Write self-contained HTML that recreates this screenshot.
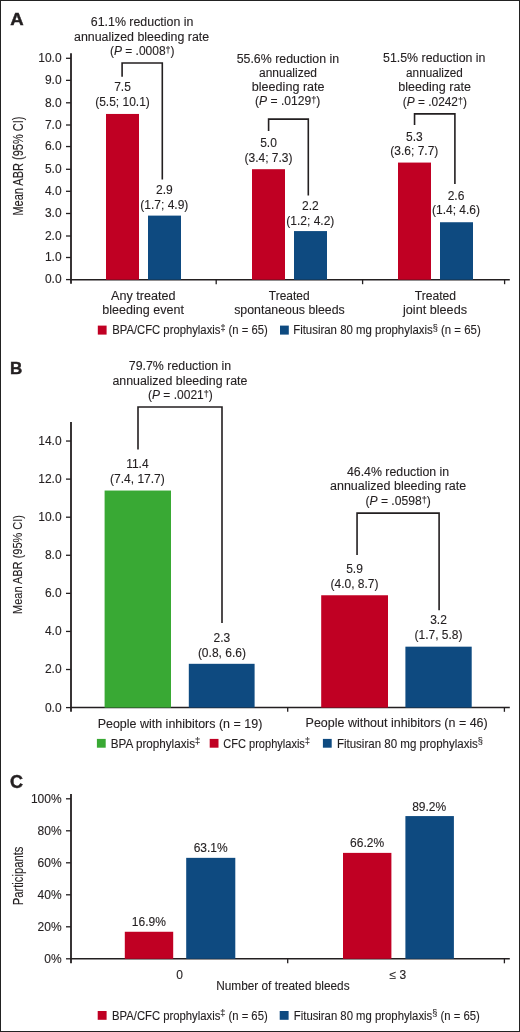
<!DOCTYPE html>
<html><head><meta charset="utf-8"><title>Figure</title>
<style>
html,body{margin:0;padding:0;background:#fff;}
body{width:520px;height:1032px;overflow:hidden;position:relative;}
svg{position:absolute;left:0;top:0;display:block;font-family:"Liberation Sans", sans-serif;will-change:transform;}
svg text{fill:#231f20;stroke:#231f20;stroke-width:0.12px;}
.frame{position:absolute;left:0;top:0;width:518px;height:1030px;border:1px solid #222;}
</style></head>
<body>
<svg width="520" height="1032" viewBox="0 0 520 1032">
<text x="10.20" y="25.00" font-size="17.2" text-anchor="start" font-weight="bold" textLength="13.40" lengthAdjust="spacingAndGlyphs" style="stroke-width:0.45px">A</text>
<line x1="71.00" y1="53.20" x2="71.00" y2="283.80" stroke="#231f20" stroke-width="1.8"/>
<line x1="66.00" y1="279.60" x2="71.00" y2="279.60" stroke="#231f20" stroke-width="1.3"/>
<text x="61.60" y="283.40" font-size="12" text-anchor="end" font-weight="normal">0.0</text>
<line x1="66.00" y1="257.50" x2="71.00" y2="257.50" stroke="#231f20" stroke-width="1.3"/>
<text x="61.60" y="261.30" font-size="12" text-anchor="end" font-weight="normal">1.0</text>
<line x1="66.00" y1="236.00" x2="71.00" y2="236.00" stroke="#231f20" stroke-width="1.3"/>
<text x="61.60" y="239.80" font-size="12" text-anchor="end" font-weight="normal">2.0</text>
<line x1="66.00" y1="213.50" x2="71.00" y2="213.50" stroke="#231f20" stroke-width="1.3"/>
<text x="61.60" y="217.30" font-size="12" text-anchor="end" font-weight="normal">3.0</text>
<line x1="66.00" y1="191.30" x2="71.00" y2="191.30" stroke="#231f20" stroke-width="1.3"/>
<text x="61.60" y="195.10" font-size="12" text-anchor="end" font-weight="normal">4.0</text>
<line x1="66.00" y1="169.30" x2="71.00" y2="169.30" stroke="#231f20" stroke-width="1.3"/>
<text x="61.60" y="173.10" font-size="12" text-anchor="end" font-weight="normal">5.0</text>
<line x1="66.00" y1="146.55" x2="71.00" y2="146.55" stroke="#231f20" stroke-width="1.3"/>
<text x="61.60" y="150.35" font-size="12" text-anchor="end" font-weight="normal">6.0</text>
<line x1="66.00" y1="125.00" x2="71.00" y2="125.00" stroke="#231f20" stroke-width="1.3"/>
<text x="61.60" y="128.80" font-size="12" text-anchor="end" font-weight="normal">7.0</text>
<line x1="66.00" y1="102.80" x2="71.00" y2="102.80" stroke="#231f20" stroke-width="1.3"/>
<text x="61.60" y="106.60" font-size="12" text-anchor="end" font-weight="normal">8.0</text>
<line x1="66.00" y1="80.35" x2="71.00" y2="80.35" stroke="#231f20" stroke-width="1.3"/>
<text x="61.60" y="84.15" font-size="12" text-anchor="end" font-weight="normal">9.0</text>
<line x1="66.00" y1="58.30" x2="71.00" y2="58.30" stroke="#231f20" stroke-width="1.3"/>
<text x="61.60" y="62.10" font-size="12" text-anchor="end" font-weight="normal">10.0</text>
<line x1="70.30" y1="279.70" x2="509.80" y2="279.70" stroke="#231f20" stroke-width="1.5"/>
<line x1="216.20" y1="279.70" x2="216.20" y2="284.20" stroke="#231f20" stroke-width="1.3"/>
<line x1="362.60" y1="279.70" x2="362.60" y2="284.20" stroke="#231f20" stroke-width="1.3"/>
<line x1="504.60" y1="279.70" x2="504.60" y2="284.20" stroke="#231f20" stroke-width="1.3"/>
<rect x="106.00" y="113.95" width="33.00" height="165.75" fill="#c00023"/>
<rect x="148.00" y="215.61" width="33.00" height="64.09" fill="#0e4a80"/>
<rect x="252.00" y="169.20" width="33.00" height="110.50" fill="#c00023"/>
<rect x="294.00" y="231.08" width="33.00" height="48.62" fill="#0e4a80"/>
<rect x="398.00" y="162.57" width="33.00" height="117.13" fill="#c00023"/>
<rect x="440.00" y="222.24" width="33.00" height="57.46" fill="#0e4a80"/>
<polyline points="122.10,76.70 122.10,63.05 162.30,63.05 162.30,179.50" fill="none" stroke="#231f20" stroke-width="1.6" stroke-linejoin="miter"/>
<polyline points="268.60,130.90 268.60,119.15 308.30,119.15 308.30,195.40" fill="none" stroke="#231f20" stroke-width="1.6" stroke-linejoin="miter"/>
<polyline points="414.55,125.10 414.55,113.90 454.90,113.90 454.90,184.00" fill="none" stroke="#231f20" stroke-width="1.6" stroke-linejoin="miter"/>
<text x="90.80" y="26.00" font-size="12" text-anchor="start" font-weight="normal" textLength="102.60" lengthAdjust="spacingAndGlyphs">61.1% reduction in</text>
<text x="74.00" y="40.70" font-size="12" text-anchor="start" font-weight="normal" textLength="135.20" lengthAdjust="spacingAndGlyphs">annualized bleeding rate</text>
<text x="109.90" y="55.00" font-size="12" text-anchor="start" font-weight="normal" textLength="64.70" lengthAdjust="spacingAndGlyphs">(<tspan font-style="italic">P</tspan> = .0008<tspan font-size="9.0" dy="-2.0">†</tspan><tspan dy="2.0">)</tspan></text>
<text x="236.70" y="62.50" font-size="12" text-anchor="start" font-weight="normal" textLength="102.40" lengthAdjust="spacingAndGlyphs">55.6% reduction in</text>
<text x="259.00" y="76.90" font-size="12" text-anchor="start" font-weight="normal" textLength="58.00" lengthAdjust="spacingAndGlyphs">annualized</text>
<text x="251.80" y="91.00" font-size="12" text-anchor="start" font-weight="normal" textLength="72.80" lengthAdjust="spacingAndGlyphs">bleeding rate</text>
<text x="255.00" y="105.40" font-size="12" text-anchor="start" font-weight="normal" textLength="65.30" lengthAdjust="spacingAndGlyphs">(<tspan font-style="italic">P</tspan> = .0129<tspan font-size="9.0" dy="-2.0">†</tspan><tspan dy="2.0">)</tspan></text>
<text x="383.00" y="62.40" font-size="12" text-anchor="start" font-weight="normal" textLength="102.50" lengthAdjust="spacingAndGlyphs">51.5% reduction in</text>
<text x="406.10" y="76.80" font-size="12" text-anchor="start" font-weight="normal" textLength="56.70" lengthAdjust="spacingAndGlyphs">annualized</text>
<text x="398.30" y="91.20" font-size="12" text-anchor="start" font-weight="normal" textLength="72.70" lengthAdjust="spacingAndGlyphs">bleeding rate</text>
<text x="402.80" y="105.70" font-size="12" text-anchor="start" font-weight="normal" textLength="64.10" lengthAdjust="spacingAndGlyphs">(<tspan font-style="italic">P</tspan> = .0242<tspan font-size="9.0" dy="-2.0">†</tspan><tspan dy="2.0">)</tspan></text>
<text x="122.50" y="91.20" font-size="12" text-anchor="middle" font-weight="normal">7.5</text>
<text x="122.50" y="105.60" font-size="12" text-anchor="middle" font-weight="normal">(5.5; 10.1)</text>
<text x="164.30" y="194.10" font-size="12" text-anchor="middle" font-weight="normal">2.9</text>
<text x="164.30" y="209.10" font-size="12" text-anchor="middle" font-weight="normal">(1.7; 4.9)</text>
<text x="268.50" y="146.70" font-size="12" text-anchor="middle" font-weight="normal">5.0</text>
<text x="268.50" y="161.60" font-size="12" text-anchor="middle" font-weight="normal">(3.4; 7.3)</text>
<text x="310.30" y="209.60" font-size="12" text-anchor="middle" font-weight="normal">2.2</text>
<text x="310.30" y="224.50" font-size="12" text-anchor="middle" font-weight="normal">(1.2; 4.2)</text>
<text x="414.30" y="140.60" font-size="12" text-anchor="middle" font-weight="normal">5.3</text>
<text x="414.30" y="154.60" font-size="12" text-anchor="middle" font-weight="normal">(3.6; 7.7)</text>
<text x="456.00" y="199.80" font-size="12" text-anchor="middle" font-weight="normal">2.6</text>
<text x="456.00" y="214.40" font-size="12" text-anchor="middle" font-weight="normal">(1.4; 4.6)</text>
<text x="111.10" y="300.00" font-size="12" text-anchor="start" font-weight="normal" textLength="64.50" lengthAdjust="spacingAndGlyphs">Any treated</text>
<text x="102.30" y="314.20" font-size="12" text-anchor="start" font-weight="normal" textLength="81.70" lengthAdjust="spacingAndGlyphs">bleeding event</text>
<text x="268.80" y="299.80" font-size="12" text-anchor="start" font-weight="normal" textLength="40.90" lengthAdjust="spacingAndGlyphs">Treated</text>
<text x="234.20" y="314.20" font-size="12" text-anchor="start" font-weight="normal" textLength="110.60" lengthAdjust="spacingAndGlyphs">spontaneous bleeds</text>
<text x="414.70" y="299.60" font-size="12" text-anchor="start" font-weight="normal" textLength="41.40" lengthAdjust="spacingAndGlyphs">Treated</text>
<text x="403.00" y="314.00" font-size="12" text-anchor="start" font-weight="normal" textLength="64.00" lengthAdjust="spacingAndGlyphs">joint bleeds</text>
<rect x="97.80" y="325.60" width="8.80" height="9.00" fill="#c00023"/>
<text x="112.20" y="334.40" font-size="12" text-anchor="start" font-weight="normal" textLength="155.60" lengthAdjust="spacingAndGlyphs">BPA/CFC prophylaxis<tspan font-size="9.6" dy="-3.4">‡</tspan><tspan dy="3.4"> (n = 65)</tspan></text>
<rect x="280.00" y="325.60" width="8.80" height="9.00" fill="#0e4a80"/>
<text x="293.20" y="334.40" font-size="12" text-anchor="start" font-weight="normal" textLength="187.50" lengthAdjust="spacingAndGlyphs">Fitusiran 80 mg prophylaxis<tspan font-size="9.6" dy="-3.4">§</tspan><tspan dy="3.4"> (n = 65)</tspan></text>
<text transform="translate(23.2,166.1) rotate(-90)" font-size="14" text-anchor="middle" textLength="99" lengthAdjust="spacingAndGlyphs">Mean ABR (95% CI)</text>
<text x="9.90" y="374.40" font-size="17" text-anchor="start" font-weight="bold" style="stroke-width:0.45px">B</text>
<line x1="71.00" y1="421.90" x2="71.00" y2="711.80" stroke="#231f20" stroke-width="1.8"/>
<line x1="66.00" y1="707.60" x2="71.00" y2="707.60" stroke="#231f20" stroke-width="1.3"/>
<text x="61.60" y="711.50" font-size="12" text-anchor="end" font-weight="normal">0.0</text>
<line x1="66.00" y1="669.52" x2="71.00" y2="669.52" stroke="#231f20" stroke-width="1.3"/>
<text x="61.60" y="673.42" font-size="12" text-anchor="end" font-weight="normal">2.0</text>
<line x1="66.00" y1="631.44" x2="71.00" y2="631.44" stroke="#231f20" stroke-width="1.3"/>
<text x="61.60" y="635.34" font-size="12" text-anchor="end" font-weight="normal">4.0</text>
<line x1="66.00" y1="593.36" x2="71.00" y2="593.36" stroke="#231f20" stroke-width="1.3"/>
<text x="61.60" y="597.26" font-size="12" text-anchor="end" font-weight="normal">6.0</text>
<line x1="66.00" y1="555.28" x2="71.00" y2="555.28" stroke="#231f20" stroke-width="1.3"/>
<text x="61.60" y="559.18" font-size="12" text-anchor="end" font-weight="normal">8.0</text>
<line x1="66.00" y1="517.20" x2="71.00" y2="517.20" stroke="#231f20" stroke-width="1.3"/>
<text x="61.60" y="521.10" font-size="12" text-anchor="end" font-weight="normal">10.0</text>
<line x1="66.00" y1="479.12" x2="71.00" y2="479.12" stroke="#231f20" stroke-width="1.3"/>
<text x="61.60" y="483.02" font-size="12" text-anchor="end" font-weight="normal">12.0</text>
<line x1="66.00" y1="441.04" x2="71.00" y2="441.04" stroke="#231f20" stroke-width="1.3"/>
<text x="61.60" y="444.94" font-size="12" text-anchor="end" font-weight="normal">14.0</text>
<line x1="70.30" y1="707.60" x2="509.80" y2="707.60" stroke="#231f20" stroke-width="1.5"/>
<line x1="287.70" y1="707.60" x2="287.70" y2="711.80" stroke="#231f20" stroke-width="1.3"/>
<line x1="504.40" y1="707.60" x2="504.40" y2="711.80" stroke="#231f20" stroke-width="1.3"/>
<rect x="104.60" y="490.54" width="66.40" height="217.06" fill="#39a934"/>
<rect x="188.80" y="663.81" width="65.80" height="43.79" fill="#0e4a80"/>
<rect x="321.20" y="595.26" width="66.80" height="112.34" fill="#c00023"/>
<rect x="405.40" y="646.67" width="66.30" height="60.93" fill="#0e4a80"/>
<polyline points="138.00,449.50 138.00,407.05 222.00,407.05 222.00,623.10" fill="none" stroke="#231f20" stroke-width="1.6" stroke-linejoin="miter"/>
<polyline points="357.05,554.90 357.05,513.10 439.10,513.10 439.10,610.30" fill="none" stroke="#231f20" stroke-width="1.6" stroke-linejoin="miter"/>
<text x="128.80" y="370.30" font-size="12" text-anchor="start" font-weight="normal" textLength="102.40" lengthAdjust="spacingAndGlyphs">79.7% reduction in</text>
<text x="112.40" y="384.70" font-size="12" text-anchor="start" font-weight="normal" textLength="135.00" lengthAdjust="spacingAndGlyphs">annualized bleeding rate</text>
<text x="148.00" y="399.30" font-size="12" text-anchor="start" font-weight="normal" textLength="64.80" lengthAdjust="spacingAndGlyphs">(<tspan font-style="italic">P</tspan> = .0021<tspan font-size="9.0" dy="-2.0">†</tspan><tspan dy="2.0">)</tspan></text>
<text x="346.90" y="475.80" font-size="12" text-anchor="start" font-weight="normal" textLength="102.30" lengthAdjust="spacingAndGlyphs">46.4% reduction in</text>
<text x="330.00" y="490.40" font-size="12" text-anchor="start" font-weight="normal" textLength="136.20" lengthAdjust="spacingAndGlyphs">annualized bleeding rate</text>
<text x="365.40" y="504.60" font-size="12" text-anchor="start" font-weight="normal" textLength="65.40" lengthAdjust="spacingAndGlyphs">(<tspan font-style="italic">P</tspan> = .0598<tspan font-size="9.0" dy="-2.0">†</tspan><tspan dy="2.0">)</tspan></text>
<text x="137.40" y="468.10" font-size="12" text-anchor="middle" font-weight="normal">11.4</text>
<text x="137.40" y="483.30" font-size="12" text-anchor="middle" font-weight="normal">(7.4, 17.7)</text>
<text x="221.90" y="641.70" font-size="12" text-anchor="middle" font-weight="normal">2.3</text>
<text x="221.90" y="657.10" font-size="12" text-anchor="middle" font-weight="normal">(0.8, 6.6)</text>
<text x="354.50" y="573.30" font-size="12" text-anchor="middle" font-weight="normal">5.9</text>
<text x="354.50" y="588.30" font-size="12" text-anchor="middle" font-weight="normal">(4.0, 8.7)</text>
<text x="438.50" y="623.90" font-size="12" text-anchor="middle" font-weight="normal">3.2</text>
<text x="438.50" y="638.60" font-size="12" text-anchor="middle" font-weight="normal">(1.7, 5.8)</text>
<text x="97.70" y="727.60" font-size="12" text-anchor="start" font-weight="normal" textLength="164.60" lengthAdjust="spacingAndGlyphs">People with inhibitors (n = 19)</text>
<text x="305.60" y="726.90" font-size="12" text-anchor="start" font-weight="normal" textLength="182.10" lengthAdjust="spacingAndGlyphs">People without inhibitors (n = 46)</text>
<rect x="96.90" y="738.90" width="8.80" height="8.80" fill="#39a934"/>
<text x="110.80" y="747.60" font-size="12" text-anchor="start" font-weight="normal" textLength="89.40" lengthAdjust="spacingAndGlyphs">BPA prophylaxis<tspan font-size="9.6" dy="-3.4">‡</tspan></text>
<rect x="209.70" y="738.90" width="8.80" height="8.80" fill="#c00023"/>
<text x="223.30" y="747.60" font-size="12" text-anchor="start" font-weight="normal" textLength="86.50" lengthAdjust="spacingAndGlyphs">CFC prophylaxis<tspan font-size="9.6" dy="-3.4">‡</tspan></text>
<rect x="322.90" y="738.90" width="8.80" height="8.80" fill="#0e4a80"/>
<text x="336.90" y="747.60" font-size="12" text-anchor="start" font-weight="normal" textLength="146.10" lengthAdjust="spacingAndGlyphs">Fitusiran 80 mg prophylaxis<tspan font-size="9.6" dy="-3.4">§</tspan></text>
<text transform="translate(22.4,564.5) rotate(-90)" font-size="13.5" text-anchor="middle" textLength="99" lengthAdjust="spacingAndGlyphs">Mean ABR (95% CI)</text>
<text x="9.90" y="788.00" font-size="18" text-anchor="start" font-weight="bold" style="stroke-width:0.45px">C</text>
<line x1="71.00" y1="794.00" x2="71.00" y2="963.30" stroke="#231f20" stroke-width="1.8"/>
<line x1="66.00" y1="958.80" x2="71.00" y2="958.80" stroke="#231f20" stroke-width="1.3"/>
<text x="61.60" y="963.00" font-size="12" text-anchor="end" font-weight="normal">0%</text>
<line x1="66.00" y1="926.80" x2="71.00" y2="926.80" stroke="#231f20" stroke-width="1.3"/>
<text x="61.60" y="931.00" font-size="12" text-anchor="end" font-weight="normal">20%</text>
<line x1="66.00" y1="894.80" x2="71.00" y2="894.80" stroke="#231f20" stroke-width="1.3"/>
<text x="61.60" y="899.00" font-size="12" text-anchor="end" font-weight="normal">40%</text>
<line x1="66.00" y1="862.80" x2="71.00" y2="862.80" stroke="#231f20" stroke-width="1.3"/>
<text x="61.60" y="867.00" font-size="12" text-anchor="end" font-weight="normal">60%</text>
<line x1="66.00" y1="830.80" x2="71.00" y2="830.80" stroke="#231f20" stroke-width="1.3"/>
<text x="61.60" y="835.00" font-size="12" text-anchor="end" font-weight="normal">80%</text>
<line x1="66.00" y1="798.80" x2="71.00" y2="798.80" stroke="#231f20" stroke-width="1.3"/>
<text x="61.60" y="803.00" font-size="12" text-anchor="end" font-weight="normal">100%</text>
<line x1="70.30" y1="958.80" x2="509.80" y2="958.80" stroke="#231f20" stroke-width="1.5"/>
<line x1="287.70" y1="958.80" x2="287.70" y2="963.30" stroke="#231f20" stroke-width="1.3"/>
<line x1="504.40" y1="958.80" x2="504.40" y2="963.30" stroke="#231f20" stroke-width="1.3"/>
<rect x="124.80" y="931.76" width="48.40" height="27.04" fill="#c00023"/>
<rect x="186.20" y="857.84" width="49.10" height="100.96" fill="#0e4a80"/>
<rect x="343.00" y="852.88" width="48.40" height="105.92" fill="#c00023"/>
<rect x="405.40" y="816.08" width="48.50" height="142.72" fill="#0e4a80"/>
<text x="148.80" y="926.10" font-size="12" text-anchor="middle" font-weight="normal">16.9%</text>
<text x="210.70" y="852.10" font-size="12" text-anchor="middle" font-weight="normal">63.1%</text>
<text x="367.10" y="847.10" font-size="12" text-anchor="middle" font-weight="normal">66.2%</text>
<text x="429.20" y="810.60" font-size="12" text-anchor="middle" font-weight="normal">89.2%</text>
<text x="179.70" y="978.70" font-size="12" text-anchor="middle" font-weight="normal">0</text>
<text x="397.80" y="978.50" font-size="12" text-anchor="middle" font-weight="normal">≤ 3</text>
<text x="216.20" y="990.30" font-size="12" text-anchor="start" font-weight="normal" textLength="133.40" lengthAdjust="spacingAndGlyphs">Number of treated bleeds</text>
<rect x="97.70" y="1011.00" width="8.90" height="8.80" fill="#c00023"/>
<text x="112.00" y="1019.60" font-size="12" text-anchor="start" font-weight="normal" textLength="155.70" lengthAdjust="spacingAndGlyphs">BPA/CFC prophylaxis<tspan font-size="9.6" dy="-3.4">‡</tspan><tspan dy="3.4"> (n = 65)</tspan></text>
<rect x="279.70" y="1011.00" width="8.90" height="8.80" fill="#0e4a80"/>
<text x="293.80" y="1019.60" font-size="12" text-anchor="start" font-weight="normal" textLength="186.00" lengthAdjust="spacingAndGlyphs">Fitusiran 80 mg prophylaxis<tspan font-size="9.6" dy="-3.4">§</tspan><tspan dy="3.4"> (n = 65)</tspan></text>
<text transform="translate(23.1,875.9) rotate(-90)" font-size="14" text-anchor="middle" textLength="58.6" lengthAdjust="spacingAndGlyphs">Participants</text>
</svg>
<div class="frame"></div>
</body></html>
